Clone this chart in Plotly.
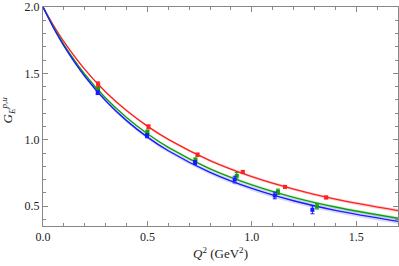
import plotly.graph_objects as go

# Curve samples
q2_curve = [0, 0.05, 0.1, 0.2, 0.3, 0.4, 0.5, 0.6, 0.8, 1.0, 1.2, 1.4, 1.7]
red_curve = [2.0, 1.862, 1.739, 1.530, 1.360, 1.220, 1.102, 1.002, 0.843, 0.722, 0.628, 0.552, 0.466]
green_curve = [2.0, 1.850, 1.717, 1.494, 1.314, 1.167, 1.045, 0.943, 0.781, 0.660, 0.566, 0.493, 0.408]
blue_curve = [2.0, 1.844, 1.707, 1.478, 1.294, 1.144, 1.020, 0.917, 0.754, 0.633, 0.540, 0.468, 0.385]
red_band = [0, 0.002, 0.003, 0.005, 0.006, 0.007, 0.008, 0.008, 0.009, 0.010, 0.010, 0.011, 0.012]
green_band = [0, 0.002, 0.003, 0.005, 0.006, 0.007, 0.008, 0.008, 0.009, 0.010, 0.010, 0.011, 0.012]
blue_band = [0, 0.004, 0.006, 0.009, 0.011, 0.013, 0.014, 0.015, 0.016, 0.017, 0.018, 0.018, 0.019]

# Data points
red_x = [0.264, 0.505, 0.740, 0.957, 1.159, 1.356]
red_y = [1.418, 1.097, 0.887, 0.757, 0.645, 0.565]
red_err = [0.018, 0.015, 0.012, 0.012, 0.010, 0.010]
green_x = [0.264, 0.500, 0.730, 0.928, 1.125, 1.312]
green_y = [1.378, 1.058, 0.848, 0.728, 0.608, 0.498]
green_err = [0.015, 0.015, 0.015, 0.025, 0.020, 0.020]
blue_x = [0.262, 0.498, 0.728, 0.918, 1.110, 1.290]
blue_y = [1.355, 1.030, 0.828, 0.700, 0.580, 0.472]
blue_err = [0.015, 0.015, 0.015, 0.025, 0.025, 0.030]

series = [
    (red_curve, red_band, red_x, red_y, red_err, "#ff2020", "rgba(255,0,0,0.18)"),
    (green_curve, green_band, green_x, green_y, green_err, "#10a010", "rgba(0,170,0,0.2)"),
    (blue_curve, blue_band, blue_x, blue_y, blue_err, "#1a1aff", "rgba(60,60,255,0.2)"),
]

SERIF = "'Liberation Serif', 'Times New Roman', Times, serif"

fig = go.Figure()
for curve, band, dx, dy, de, col, fill in series:
    upper = [c + b for c, b in zip(curve, band)]
    lower = [c - b for c, b in zip(curve, band)]
    fig.add_trace(go.Scatter(x=q2_curve, y=upper, mode="lines", line=dict(width=0, shape="spline"),
                             hoverinfo="skip", showlegend=False))
    fig.add_trace(go.Scatter(x=q2_curve, y=lower, mode="lines", line=dict(width=0, shape="spline"),
                             fill="tonexty", fillcolor=fill, hoverinfo="skip", showlegend=False))
    fig.add_trace(go.Scatter(x=q2_curve, y=curve, mode="lines",
                             line=dict(color=col, width=1.4, shape="spline"), showlegend=False))
for curve, band, dx, dy, de, col, fill in series:
    fig.add_trace(go.Scatter(x=dx, y=dy, mode="markers",
                             marker=dict(symbol="square", size=4, color=col),
                             error_y=dict(type="data", array=de, color=col, thickness=1, width=2),
                             showlegend=False))

axis_common = dict(showline=True, linecolor="#888888", linewidth=1, mirror="ticks",
                   ticks="inside", ticklen=5, tickcolor="#888888", showgrid=False, zeroline=False,
                   automargin=False,
                   tickfont=dict(family=SERIF, size=12, color="#222222"))

fig.update_xaxes(range=[0, 1.7], dtick=0.5, tickformat=".1f",
                 minor=dict(dtick=0.1, ticks="inside", ticklen=3, tickcolor="#888888"),
                 **axis_common)
fig.update_yaxes(range=[0.35, 2.0], tickvals=[0.5, 1.0, 1.5, 2.0], tickformat=".1f",
                 minor=dict(dtick=0.1, ticks="inside", ticklen=3, tickcolor="#888888"),
                 **axis_common)

fig.add_annotation(text="<i>Q</i><sup>2</sup> (GeV<sup>2</sup>)", xref="paper", yref="paper",
                   x=0.5, y=-0.125, yanchor="middle", showarrow=False,
                   font=dict(family=SERIF, size=13, color="#222222"))
fig.add_annotation(text="<i>G</i><sub><i>E</i></sub><sup><i>p,u</i></sup>", xref="paper", yref="paper",
                   x=-0.1, y=0.53, xanchor="center", yanchor="middle", textangle=-90, showarrow=False,
                   font=dict(family=SERIF, size=13, color="#222222"))

fig.update_layout(width=399, height=266, margin=dict(l=43, r=1, t=7, b=40, autoexpand=False),
                  font=dict(family=SERIF, size=12, color="#222222"),
                  plot_bgcolor="white", paper_bgcolor="white")
fig.write_html("out.html", config={"displayModeBar": False},
               post_script="document.body.style.margin='0';document.body.style.overflow='hidden';")
